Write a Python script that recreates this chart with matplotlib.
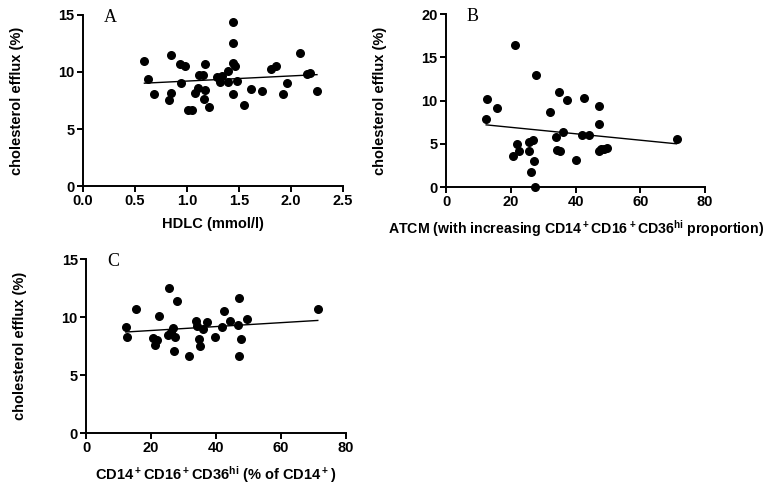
import numpy as np
import matplotlib
matplotlib.use('Agg')
import matplotlib.pyplot as plt

plt.rcParams['font.family'] = ['Liberation Sans', 'DejaVu Sans']
plt.rcParams['font.weight'] = 'bold'
plt.rcParams['mathtext.fontset'] = 'custom'
plt.rcParams['mathtext.rm'] = 'Liberation Sans:bold'
plt.rcParams['mathtext.bf'] = 'Liberation Sans:bold'
plt.rcParams['mathtext.default'] = 'bf'

# Panel A: HDLC vs cholesterol efflux
hdlc = [0.59, 0.62, 0.68, 0.83, 0.85, 0.85, 0.93, 0.94, 0.98, 1.01, 1.05, 1.08,
        1.11, 1.12, 1.15, 1.17, 1.16, 1.17, 1.21, 1.29, 1.32, 1.34, 1.39, 1.39,
        1.44, 1.44, 1.44, 1.46, 1.44, 1.48, 1.55, 1.62, 1.72, 1.81, 1.86, 1.92,
        1.96, 2.09, 2.15, 2.18, 2.25]
efflux_a = [11.0, 9.35, 8.1, 7.5, 11.45, 8.13, 10.7, 9.03, 10.5, 6.67, 6.67, 8.16,
            8.62, 9.73, 9.73, 10.72, 7.6, 8.45, 6.9, 9.58, 9.09, 9.64, 10.11, 9.15,
            14.36, 12.5, 10.75, 10.54, 8.07, 9.2, 7.08, 8.48, 8.3, 10.28, 10.54, 8.1,
            9.0, 11.68, 9.82, 9.9, 8.3]

# Panel B: ATCM vs cholesterol efflux
atcm = [21.4, 27.9, 12.6, 12.4, 15.7, 20.7, 21.8, 22.6, 25.6, 25.7, 26.1, 27.0,
        27.1, 27.4, 32.0, 34.0, 34.8, 34.2, 35.2, 36.2, 37.5, 40.0, 42.0, 42.7,
        44.3, 47.1, 47.2, 47.3, 47.9, 48.7, 49.7, 71.2]
efflux_b = [16.42, 13.0, 10.19, 7.85, 9.12, 3.54, 4.96, 4.19, 4.12, 5.19, 1.77, 5.46,
            3.0, 0.0, 8.73, 5.81, 11.04, 4.31, 4.19, 6.42, 10.04, 3.12, 6.04, 10.31,
            6.08, 9.38, 7.27, 4.15, 4.35, 4.46, 4.54, 5.54]

# Panel C: CD14+CD16+CD36hi proportion vs cholesterol efflux
cd36 = [12.2, 12.5, 15.5, 22.5, 20.6, 21.2, 21.8, 25.5, 25.2, 26.6, 26.9, 27.4,
        27.9, 26.0, 31.8, 33.8, 34.2, 34.7, 35.0, 35.9, 37.3, 39.7, 41.8, 42.4,
        44.3, 46.9, 46.8, 47.2, 47.7, 49.5, 71.3]
efflux_c = [9.10, 8.29, 10.68, 10.08, 8.20, 7.63, 8.06, 12.50, 8.49, 9.04, 7.08, 8.29,
            11.37, 8.67, 6.68, 9.67, 9.21, 8.12, 7.49, 8.98, 9.56, 8.29, 9.16, 10.48,
            9.67, 11.63, 9.33, 6.68, 8.09, 9.79, 10.68]

ylab = 'cholesterol efflux (%)'

fig = plt.figure(figsize=(7.69, 4.86), dpi=100)

def panel(rect, x, y, xlim, ylim, xticks, yticks, xlabel, letter, xfmt, xlsize=10.5):
    ax = fig.add_axes(rect)
    ax.scatter(x, y, s=30, color='black', zorder=3, clip_on=False)
    k, b = np.polyfit(x, y, 1)
    xs = np.array([min(x), max(x)])
    ax.plot(xs, k * xs + b, color='black', lw=1.0)
    ax.set_xlim(*xlim)
    ax.set_ylim(*ylim)
    ax.set_xticks(xticks)
    ax.set_yticks(yticks)
    ax.set_xticklabels([xfmt.format(t) for t in xticks], fontweight='bold', fontsize=10.5)
    ax.set_yticklabels([str(t) for t in yticks], fontweight='bold', fontsize=10.5)
    for s in ['top', 'right']:
        ax.spines[s].set_visible(False)
    for s in ['left', 'bottom']:
        ax.spines[s].set_linewidth(1.4)
    ax.tick_params(direction='out', length=4, width=1.4, pad=2)
    ax.set_ylabel(ylab, fontsize=10.5, fontweight='bold', labelpad=25)
    ax.set_xlabel(xlabel, fontsize=xlsize, fontweight='bold', labelpad=6)
    ax.text(0.08, 0.985, letter, transform=ax.transAxes, family='Liberation Serif',
            fontweight='normal', fontsize=13, ha='left', va='center')
    return ax

panel([0.108, 0.617, 0.338, 0.3525], hdlc, efflux_a, (0, 2.5), (0, 15),
      [0.0, 0.5, 1.0, 1.5, 2.0, 2.5], [0, 5, 10, 15], 'HDLC (mmol/l)', 'A', '{:.1f}')
panel([0.580, 0.615, 0.3368, 0.356], atcm, efflux_b, (0, 80), (0, 20),
      [0, 20, 40, 60, 80], [0, 5, 10, 15, 20],
      r'ATCM (with increasing CD14$^+$CD16$^+$CD36$^{hi}$ proportion)', 'B', '{}', 10.2)
panel([0.112, 0.109, 0.338, 0.358], cd36, efflux_c, (0, 80), (0, 15),
      [0, 20, 40, 60, 80], [0, 5, 10, 15],
      r'CD14$^+$CD16$^+$CD36$^{hi}$ (% of CD14$^+$)', 'C', '{}')

fig.savefig('out.png', dpi=100)
